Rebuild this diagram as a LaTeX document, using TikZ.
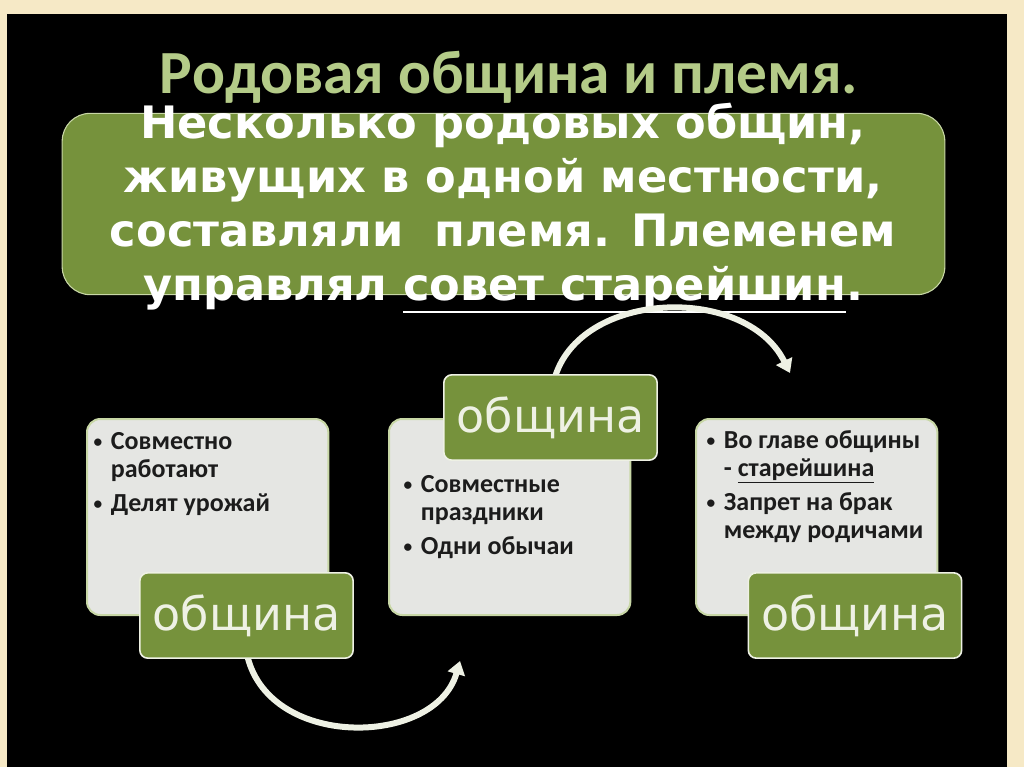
\documentclass[tikz,border=0pt]{standalone}
\usepackage{fontspec}
\setmainfont{DejaVu Sans}
\newfontfamily\carlito{Carlito}
\usetikzlibrary{arrows.meta}

\definecolor{slidebg}{HTML}{F6E9C6}
\definecolor{olive}{HTML}{76923C}
\definecolor{oliveedge}{HTML}{C8D7A6}
\definecolor{titlegreen}{HTML}{B4CB88}
\definecolor{cardgray}{HTML}{E5E6E3}
\definecolor{ivory}{HTML}{EEF1E4}
\definecolor{ink}{HTML}{1C1C1C}

% bullet and indent for the lists in the cards
\newcommand\bl{\makebox[14pt][l]{\hspace{1pt}\raisebox{1.5pt}{\fontsize{13}{13}\selectfont•}}}
\newcommand\ind{\hspace*{14pt}}
% thick underline for the white text
\newcommand\ulined[1]{\setbox0\hbox{#1}\leavevmode\rlap{\raisebox{-10pt}{\rule{\wd0}{1.6pt}}}\box0}

\tikzset{
  titletext/.style={inner sep=0, text=titlegreen, font=\carlito\bfseries\fontsize{46}{52}\selectfont},
  band/.style={fill=olive, draw=oliveedge, line width=0.8pt, rounded corners=21pt,
               minimum width=662pt, minimum height=136pt, inner sep=0},
  bandtext/.style={inner sep=0, align=center, text=white, font=\bfseries\fontsize{33.5}{40.5}\selectfont},
  card/.style={anchor=north west, fill=cardgray, draw=oliveedge, line width=1.5pt, rounded corners=10pt,
               minimum width=181pt, minimum height=147pt, inner sep=0},
  tag/.style={fill=olive, draw=ivory, line width=1.2pt, rounded corners=6pt,
              minimum width=160pt, minimum height=64pt, inner sep=0, text=ivory, font=\fontsize{34.5}{38}\selectfont},
  points/.style={anchor=north west, inner sep=0, align=left, text=ink, font=\carlito\bfseries\fontsize{19.5}{21}\selectfont},
  swing/.style={draw=ivory, line width=4.5pt, -{Triangle[length=10pt,width=13pt]}}
}

\begin{document}
\begin{tikzpicture}[x=0.75pt,y=-0.75pt]

% slide background
\fill[slidebg] (0,0) rectangle (1024,767);
\fill[black] (7,14) rectangle (1007,767);
\useasboundingbox (0,0) rectangle (1024,767);

% title
\node[titletext] (title) at (509,77) {Родовая община и племя.};

% green band, its text runs over the edges
\node[band] (band) at (503.5,204) {};
\node[bandtext] (bandtext) at (503,208) {Несколько родовых общин,\\ живущих в одной местности,\\ составляли\ \ племя. Племенем\\ управлял \ulined{совет старейшин}.};

% the three cards
\node[card] (card1) at (86,418) {};
\node[card] (card2) at (388,418) {};
\node[card] (card3) at (695,418) {};

\node[points] (pts1) at (92,432) {\bl Совместно\\ \ind работают\\[5pt] \bl Делят урожай};
\node[points] (pts2) at (402,475) {\bl Совместные\\ \ind праздники\\[5pt] \bl Одни обычаи};
\node[points] (pts3) at (705,430) {\bl Во главе общины\\ \ind - \underline{старейшина}\\[5pt] \bl Запрет на брак\\ \ind между родичами};

% arrows between the communities
\coordinate (tip1) at (460,661);
\coordinate (tip2) at (790,373);
\draw[swing] (246.5,652) .. controls (265,750) and (435,748) .. (tip1);
\draw[swing] (553,385) .. controls (572,290) and (745,282) .. (tip2);

% labels
\node[tag] (lab1) at (246.5,615.5) {община};
\node[tag] (lab2) at (550.5,417.5) {община};
\node[tag] (lab3) at (855,615.5) {община};

\end{tikzpicture}
\end{document}
